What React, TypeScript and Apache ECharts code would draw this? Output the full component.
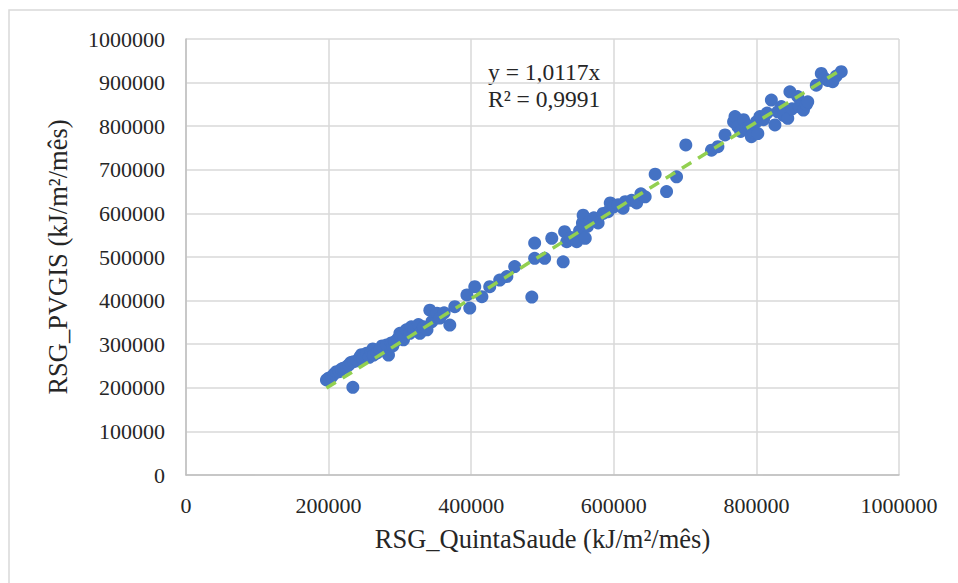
import React, { useEffect, useRef } from "react";
import * as echarts from "echarts";

// RSG_QuintaSaude (x) vs RSG_PVGIS (y), kJ/m²/mês
const quintaSaude: number[] = [
  197000, 200000, 204000, 208000, 211000, 215000, 218000, 221000, 225000, 228000,
  231000, 234000, 235000, 240000, 244000, 246000, 248000, 253000, 257000, 260000,
  262000, 263000, 268000, 272000, 275000, 277000, 281000, 284000, 288000, 290000,
  293000, 297000, 300000, 302000, 305000, 309000, 314000, 316000, 320000, 326000,
  328000, 333000, 338000, 342000, 345000, 350000, 352000, 356000, 362000, 370000,
  377000, 394000, 398000, 405000, 415000, 426000, 440000, 450000, 461000, 485000,
  489000, 489000, 503000, 513000, 529000, 531000, 534000, 540000, 548000, 552000,
  556000, 557000, 560000, 563000, 567000, 572000, 578000, 585000, 592000, 595000,
  600000, 606000, 613000, 616000, 625000, 632000, 638000, 644000, 658000, 674000,
  688000, 701000, 737000, 746000, 756000, 768000, 770000, 774000, 778000, 782000,
  786000, 790000, 793000, 797000, 800000, 802000, 805000, 810000, 815000, 821000,
  826000, 830000, 835000, 838000, 844000, 847000, 850000, 858000, 860000, 866000,
  870000, 872000, 884000, 891000, 895000, 900000, 907000, 912000, 919000,
];
const pvgis: number[] = [
  218000, 222000, 225000, 232000, 237000, 237000, 243000, 245000, 248000, 252000,
  258000, 201000, 260000, 262000, 271000, 276000, 268000, 279000, 270000, 283000,
  289000, 275000, 280000, 287000, 296000, 292000, 298000, 275000, 303000, 296000,
  306000, 312000, 325000, 318000, 310000, 333000, 325000, 340000, 335000, 345000,
  325000, 340000, 333000, 378000, 352000, 362000, 371000, 360000, 372000, 344000,
  386000, 413000, 383000, 432000, 409000, 432000, 447000, 455000, 478000, 408000,
  497000, 532000, 497000, 543000, 489000, 558000, 535000, 545000, 535000, 560000,
  578000, 596000, 543000, 570000, 585000, 590000, 578000, 600000, 604000, 624000,
  615000, 620000, 612000, 627000, 630000, 624000, 645000, 638000, 690000, 650000,
  684000, 757000, 745000, 753000, 780000, 810000, 822000, 799000, 788000, 815000,
  795000, 800000, 776000, 785000, 810000, 783000, 822000, 815000, 830000, 860000,
  803000, 833000, 845000, 825000, 818000, 879000, 840000, 868000, 845000, 837000,
  850000, 856000, 894000, 921000, 910000, 905000, 902000, 915000, 925000,
];

const slope = 1.0117;
const xTicks = { min: 0, max: 1000000, interval: 200000 };
const yTicks = { min: 0, max: 1000000, interval: 100000 };
const equationText = "y = 1,0117x";
const r2Text = "R² = 0,9991";
const xTitle = "RSG_QuintaSaude (kJ/m²/mês)";
const yTitle = "RSG_PVGIS (kJ/m²/mês)";

export default function App() {
  const ref = useRef<HTMLDivElement>(null);
  useEffect(() => {
    if (!ref.current) return;
    const chart = echarts.init(ref.current, null, { renderer: "svg" });
    const points = quintaSaude.map((x, i) => [x, pvgis[i]]);
    const xMin = Math.min(...quintaSaude);
    const xMax = Math.max(...quintaSaude);
    const trend = [
      [xMin, xMin * slope],
      [xMax, xMax * slope],
    ];
    const font = "'Liberation Serif', 'Times New Roman', serif";
    const textColor = "#262626";
    const plain = (v: number) => String(Math.round(v));
    chart.setOption({
      animation: false,
      backgroundColor: "#ffffff",
      grid: { left: 186, right: 59, top: 39, bottom: 108, outerBoundsMode: "none" },
      xAxis: {
        type: "value",
        ...xTicks,
        name: xTitle,
        nameLocation: "middle",
        nameGap: 50,
        nameTextStyle: { fontFamily: font, fontSize: 26.5, color: textColor },
        axisLine: { show: true, lineStyle: { color: "#bfbfbf", width: 1.5 } },
        axisTick: { show: false },
        axisLabel: { fontFamily: font, fontSize: 22, color: textColor, margin: 19, formatter: plain },
        splitLine: { show: true, lineStyle: { color: "#d9d9d9", width: 1.5 } },
      },
      yAxis: {
        type: "value",
        ...yTicks,
        name: yTitle,
        nameLocation: "middle",
        nameGap: 115,
        nameTextStyle: { fontFamily: font, fontSize: 26.5, color: textColor },
        axisLine: { show: true, lineStyle: { color: "#bfbfbf", width: 1.5 } },
        axisTick: { show: false },
        axisLabel: { fontFamily: font, fontSize: 22, color: textColor, margin: 21, formatter: plain },
        splitLine: { show: true, lineStyle: { color: "#d9d9d9", width: 1.5 } },
      },
      series: [
        {
          type: "scatter",
          data: points,
          symbol: "circle",
          symbolSize: 13,
          itemStyle: { color: "#4472C4", opacity: 1 },
          z: 2,
        },
        {
          type: "line",
          data: trend,
          symbol: "none",
          lineStyle: { color: "#92D050", width: 3.5, type: [11, 8] },
          z: 3,
        },
      ],
      graphic: [
        {
          type: "rect",
          shape: { x: 9, y: 10, width: 970, height: 600 },
          style: { fill: "none", stroke: "#d9d9d9", lineWidth: 1.5 },
          silent: true,
        },
        {
          type: "text",
          x: 488,
          y: 72,
          style: { text: equationText, font: `23.5px ${font}`, fill: textColor, verticalAlign: "middle" },
        },
        {
          type: "text",
          x: 488,
          y: 99,
          style: { text: r2Text, font: `23.5px ${font}`, fill: textColor, verticalAlign: "middle" },
        },
      ],
    });
    return () => chart.dispose();
  }, []);
  return (
    <div
      ref={ref}
      style={{ position: "absolute", left: 0, top: 0, width: 958, height: 583 }}
    />
  );
}
